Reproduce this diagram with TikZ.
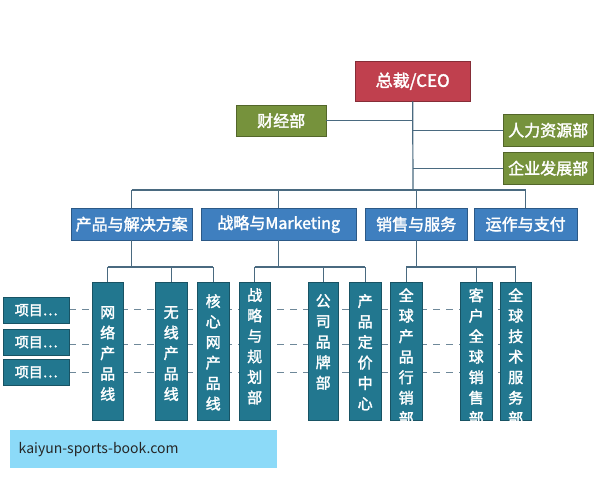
\documentclass[tikz,border=0pt]{standalone}
\usepackage{fontspec}
\setmainfont{Noto Sans CJK SC}[AutoFakeBold=2]
\begin{document}
\begin{tikzpicture}[x=1pt,y=-1pt,
  box/.style={draw=#1!70!black,fill=#1,text=white,font=\bfseries\fontsize{16}{16}\selectfont,inner sep=0pt,anchor=north west},
  vbox/.style={draw=tealc!70!black,fill=tealc,text=white,font=\bfseries\fontsize{15}{20.5}\selectfont,inner sep=0pt,anchor=north west,align=center},
  ln/.style={draw=linec,line width=1.2pt},
  dl/.style={draw=linec!80,line width=1pt,dash pattern=on 7pt off 6pt}]
\definecolor{redc}{HTML}{C0404E}
\definecolor{greenc}{HTML}{76923C}
\definecolor{bluec}{HTML}{3F7FBF}
\definecolor{tealc}{HTML}{22778F}
\definecolor{linec}{HTML}{4A6A80}
\useasboundingbox[fill=white] (0,0) rectangle (600,480);
\foreach \y in {309,344,372} \draw[dl] (69,\y) -- (531,\y);
\node[box=redc,minimum width=115pt,minimum height=40pt,font=\bfseries\fontsize{17}{17}\selectfont] (ceo) at (355,61) {总裁/CEO};
\node[box=greenc,minimum width=90pt,minimum height=31pt] (cj) at (236,105) {财经部};
\node[box=greenc,minimum width=90pt,minimum height=32pt] (hr) at (503,114) {人力资源部};
\node[box=greenc,minimum width=90pt,minimum height=32pt] (qy) at (503,152) {企业发展部};
\coordinate (bar) at (413,190);
\draw[ln] (ceo.south) -- (bar);
\draw[ln] (cj.east) -- (cj.east -| bar);
\draw[ln] (hr.west) -- (hr.west -| bar);
\draw[ln] (qy.west) -- (qy.west -| bar);
\node[box=bluec,minimum width=121pt,minimum height=32pt] (a) at (71,208) {产品与解决方案};
\node[box=bluec,minimum width=155pt,minimum height=32pt] (b) at (201,208) {战略与Marketing};
\node[box=bluec,minimum width=102pt,minimum height=32pt] (c) at (365,208) {销售与服务};
\node[box=bluec,minimum width=103pt,minimum height=32pt] (d) at (474,208) {运作与支付};
\draw[ln] (a.north |- bar) -- (d.north |- bar);
\foreach \n in {a,b,c,d} \draw[ln] (\n.north |- bar) -- (\n.north);
\foreach \n/\x/\w/\s/\t in {
  v1/92/31/24/网\\络\\产\\品\\线,
  v2/155/32/24/无\\线\\产\\品\\线,
  v3/197/32/12/核\\心\\网\\产\\品\\线,
  v4/239/31/6/战\\略\\与\\规\\划\\部,
  v5/308/30/12/公\\司\\品\\牌\\部,
  v6/349/32/12/产\\品\\定\\价\\中\\心,
  v7/390/32/6/全\\球\\产\\品\\行\\销\\部,
  v8/460/32/6/客\\户\\全\\球\\销\\售\\部,
  v9/500/31/6/全\\球\\技\\术\\服\\务\\部}
  {\node[vbox,minimum width=\w pt,minimum height=138pt] (\n) at (\x,282) {};
   \node[vbox,draw=none,fill=none,anchor=north,text width=\w pt] at ([yshift=-\s pt]\n.north) {\t};}
\fill[white] (85,421) rectangle (540,429);
\draw[ln] (v1.north |- 0,267) -- (v3.north |- 0,267);
\draw[ln] (v4.north |- 0,267) -- (v6.north |- 0,267);
\draw[ln] (v7.north |- 0,267) -- (v9.north |- 0,267);
\draw[ln] (a.south) -- (a.south |- 0,267);
\draw[ln] (b.south) -- (b.south |- 0,267);
\draw[ln] (c.south) -- (c.south |- 0,267);
\foreach \n in {v1,v2,v3,v4,v5,v6,v7,v8,v9} \draw[ln] (\n.north |- 0,267) -- (\n.north);
\foreach \n/\y in {p1/297,p2/329,p3/359}
  \node[box=tealc,minimum width=66pt,minimum height=26pt,font=\bfseries\fontsize{14}{14}\selectfont] (\n) at (3,\y) {项目…};
\node[anchor=north west,fill=cyan!45!white,minimum width=267pt,minimum height=38pt,inner sep=0pt,text=black!85,font=\fontsize{14}{14}\selectfont,align=left,text width=250pt] (k) at (10,430) {kaiyun-sports-book.com};
\end{tikzpicture}
\end{document}
